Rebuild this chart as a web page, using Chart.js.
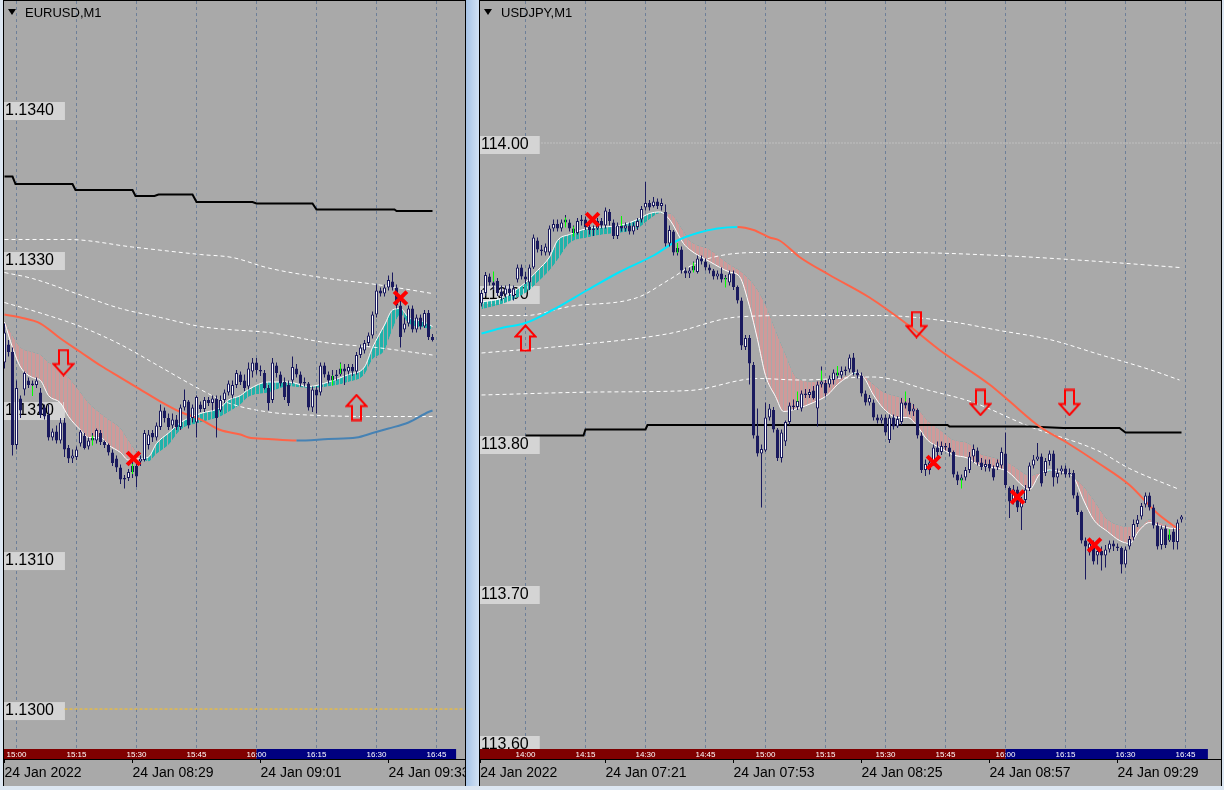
<!DOCTYPE html>
<html>
<head>
<meta charset="utf-8">
<script src="https://cdn.jsdelivr.net/npm/chart.js@4.4.1/dist/chart.umd.min.js"></script>
<style>
html, body { margin: 0; padding: 0; }
body { width: 1224px; height: 790px; position: relative; overflow: hidden; background: #dce6f1; font-family: "Liberation Sans", Arial, sans-serif; }
.gap { position: absolute; left: 466px; top: 0; width: 13px; height: 786px; background: linear-gradient(to right, #a6c3e6, #d2e2f4); }
.panel { position: absolute; top: 0; height: 786px; background: #a9a9a9; border: 1px solid #000; border-bottom: none; box-sizing: border-box; }
.panel canvas { position: absolute; left: 0; top: 0; }
.tri { position: absolute; top: 9px; width: 0; height: 0; border-left: 4.5px solid transparent; border-right: 4.5px solid transparent; border-top: 6px solid #000; }
.title { position: absolute; top: 5px; font-size: 13px; color: #000; white-space: nowrap; }
</style>
</head>
<body>
<div class="gap"></div>
<div class="panel" style="left:3px;width:463px;"><canvas id="eurChart" width="461" height="785"></canvas></div>
<div class="panel" style="left:479px;width:743px;"><canvas id="jpyChart" width="741" height="785"></canvas></div>
<div class="tri" style="left:8px;"></div><div class="title" style="left:25px;">EURUSD,M1</div>
<div class="tri" style="left:484px;"></div><div class="title" style="left:501px;">USDJPY,M1</div>
<script>
//-------------
//- EURUSD, M1 (bar index 0 = first visible bar)
//-------------
var eurOpen = [1.13231,1.13243,1.13238,1.13176,1.13207,1.13213,1.13219,1.13216,1.13216,1.13211,
  1.13201,1.13196,1.13181,1.13185,1.13179,1.13191,1.13174,1.13167,1.13168,1.13177,
  1.13182,1.13175,1.13179,1.13179,1.13184,1.13178,1.13176,1.13171,1.13167,1.13161,
  1.13153,1.13154,1.13158,1.13162,1.13165,1.13166,1.13176,1.13184,1.13181,1.13188,
  1.13199,1.13194,1.13189,1.13193,1.13188,1.13201,1.13205,1.13194,1.13191,1.13203,
  1.13200,1.13206,1.13204,1.13207,1.13199,1.13206,1.13211,1.13209,1.13216,1.13223,
  1.13219,1.13215,1.13225,1.13231,1.13226,1.13224,1.13214,1.13206,1.13229,1.13223,
  1.13218,1.13216,1.13219,1.13227,1.13223,1.13217,1.13217,1.13201,1.13213,1.13211,
  1.13229,1.13223,1.13219,1.13222,1.13223,1.13227,1.13225,1.13228,1.13225,1.13236,
  1.13239,1.13244,1.13249,1.13263,1.13279,1.13277,1.13281,1.13285,1.13281,1.13269,
  1.13253,1.13257,1.13267,1.13253,1.13261,1.13255,1.13264,1.13248];
var eurHigh = [1.13257,1.13246,1.13241,1.13219,1.13209,1.13225,1.13221,1.13219,1.13221,1.13214,
  1.13203,1.13203,1.13187,1.13189,1.13194,1.13194,1.13176,1.13173,1.13175,1.13186,
  1.13184,1.13181,1.13184,1.13187,1.13186,1.13179,1.13177,1.13173,1.13169,1.13163,
  1.13156,1.13160,1.13166,1.13166,1.13169,1.13186,1.13186,1.13186,1.13191,1.13203,
  1.13201,1.13197,1.13197,1.13196,1.13203,1.13213,1.13206,1.13203,1.13209,1.13205,
  1.13208,1.13208,1.13209,1.13209,1.13209,1.13213,1.13219,1.13219,1.13226,1.13225,
  1.13223,1.13231,1.13234,1.13234,1.13229,1.13226,1.13216,1.13234,1.13231,1.13225,
  1.13221,1.13219,1.13235,1.13230,1.13225,1.13221,1.13218,1.13215,1.13215,1.13231,
  1.13231,1.13225,1.13226,1.13226,1.13231,1.13230,1.13230,1.13230,1.13238,1.13243,
  1.13246,1.13251,1.13265,1.13283,1.13281,1.13283,1.13289,1.13291,1.13283,1.13273,
  1.13261,1.13269,1.13269,1.13263,1.13263,1.13266,1.13266,1.13250];
var eurLow = [1.13227,1.13235,1.13169,1.13173,1.13194,1.13209,1.13214,1.13213,1.13214,1.13194,
  1.13193,1.13179,1.13179,1.13177,1.13177,1.13168,1.13164,1.13164,1.13166,1.13175,
  1.13173,1.13173,1.13176,1.13177,1.13176,1.13174,1.13169,1.13162,1.13158,1.13150,
  1.13147,1.13152,1.13154,1.13148,1.13162,1.13165,1.13173,1.13178,1.13179,1.13186,
  1.13191,1.13186,1.13187,1.13186,1.13186,1.13199,1.13187,1.13191,1.13181,1.13198,
  1.13198,1.13202,1.13199,1.13181,1.13198,1.13204,1.13209,1.13207,1.13214,1.13216,
  1.13212,1.13213,1.13221,1.13223,1.13222,1.13213,1.13199,1.13204,1.13221,1.13215,
  1.13206,1.13202,1.13217,1.13221,1.13215,1.13215,1.13199,1.13198,1.13197,1.13209,
  1.13221,1.13217,1.13218,1.13219,1.13222,1.13216,1.13223,1.13222,1.13223,1.13234,
  1.13237,1.13242,1.13247,1.13261,1.13275,1.13275,1.13279,1.13279,1.13267,1.13241,
  1.13251,1.13255,1.13251,1.13251,1.13253,1.13254,1.13246,1.13245];
var eurClose = [1.13251,1.13238,1.13176,1.13214,1.13199,1.13224,1.13216,1.13217,1.13219,1.13196,
  1.13195,1.13181,1.13185,1.13179,1.13191,1.13173,1.13167,1.13169,1.13173,1.13185,
  1.13174,1.13179,1.13181,1.13186,1.13178,1.13176,1.13171,1.13164,1.13161,1.13153,
  1.13154,1.13158,1.13162,1.13155,1.13167,1.13184,1.13183,1.13181,1.13189,1.13199,
  1.13194,1.13188,1.13193,1.13188,1.13201,1.13206,1.13189,1.13201,1.13208,1.13200,
  1.13206,1.13204,1.13207,1.13194,1.13206,1.13211,1.13217,1.13216,1.13224,1.13218,
  1.13214,1.13227,1.13231,1.13226,1.13225,1.13214,1.13204,1.13231,1.13224,1.13217,
  1.13208,1.13204,1.13228,1.13223,1.13217,1.13218,1.13201,1.13213,1.13209,1.13229,
  1.13223,1.13219,1.13222,1.13223,1.13227,1.13225,1.13228,1.13225,1.13236,1.13241,
  1.13244,1.13249,1.13263,1.13279,1.13277,1.13281,1.13286,1.13281,1.13269,1.13248,
  1.13257,1.13267,1.13253,1.13261,1.13255,1.13264,1.13248,1.13246];

var eurPriceTicks = [1.1300, 1.1310, 1.1320, 1.1330, 1.1340];
var eurGridIdx = [3, 18, 33, 48, 63, 78, 93, 108];
var eurSessionLabels = ["15:00", "15:15", "15:30", "15:45", "16:00", "16:15", "16:30", "16:45"];
var eurDateIdx = [0, 32, 64, 96];
var eurDateLabels = ["24 Jan 2022", "24 Jan 08:29", "24 Jan 09:01", "24 Jan 09:33"];

// fast MA (white) and slow MA, the histogram is painted between them
var eurMaIdx = [0,2,4,7,9,11,14,16,19,21,24,26,29,31,34,36,38,41,44,49,54,56,59,61,66,71,76,81,86,90,92,95,97,99,101,105,107];
var eurMaFast = [1.13258,1.13241,1.13228,1.13221,1.13219,1.13209,1.13204,1.13195,1.13186,1.13181,
  1.13181,1.13176,1.13171,1.13166,1.13167,1.13168,1.13177,1.13184,1.13191,1.13197,
  1.13201,1.13206,1.13209,1.13213,1.13218,1.13218,1.13215,1.13218,1.13223,1.13228,
  1.13241,1.13256,1.13266,1.13267,1.13261,1.13258,1.13255];
var eurMaSlow = [1.13259,1.13249,1.13241,1.13238,1.13236,1.13231,1.13226,1.13221,1.13211,1.13204,
  1.13197,1.13193,1.13187,1.13179,1.13168,1.13165,1.13170,1.13176,1.13186,1.13191,
  1.13195,1.13198,1.13203,1.13208,1.13211,1.13215,1.13214,1.13215,1.13218,1.13223,
  1.13233,1.13239,1.13253,1.13263,1.13257,1.13254,1.13253];

var eurEmaIdx = [0,4,9,14,19,24,29,34,39,44,49,54,59,61,66,73,81,88,92,96,101,106,107];
var eurEma = [1.13263,1.13261,1.13257,1.13247,1.13238,1.13229,1.13221,1.13213,1.13205,1.13198,
  1.13193,1.13186,1.13183,1.13181,1.13180,1.13179,1.13180,1.13181,1.13184,1.13187,1.13191,1.13198,1.13199];

var eurBlackIdx = [0,2,2.75,17,17.75,32,32.75,37.5,38.5,47,48,62,63,77,78,97.5,98,107];
var eurBlack = [1.13355,1.13355,1.13350,1.13350,1.13346,1.13346,1.13342,1.13342,1.13343,1.13343,
  1.13338,1.13338,1.13337,1.13337,1.13333,1.13333,1.13332,1.13332];

var eurBandUpIdx = [0,16,32,49,57,66,81,93,107];
var eurBandUp = [1.13313,1.13313,1.13308,1.13303,1.13301,1.13294,1.13287,1.13283,1.13277];
var eurBandMidIdx = [0,7,19,29,39,49,56,66,81,93,107];
var eurBandMid = [1.13291,1.13287,1.13276,1.13267,1.13261,1.13255,1.13253,1.13251,1.13244,1.13241,1.13236];
var eurBandLowIdx = [0,9,19,29,39,49,56,66,76,93,107];
var eurBandLow = [1.13271,1.13264,1.13255,1.13243,1.13228,1.13213,1.13204,1.13198,1.13196,1.13195,1.13195];

var eurLevel = 1.1300;
var eurArrowIdx = [14.75, 88];
var eurArrowPrice = [1.13231, 1.13201];
var eurArrowUp = [false, true];
var eurCrossIdx = [32.25, 99];
var eurCrossPrice = [1.13167, 1.13274];
var eurTickIdx = [7, 22, 32, 82, 84];
var eurTickPrice = [1.13212, 1.13179, 1.13160, 1.13219, 1.13227];

//-------------
//- USDJPY, M1
//-------------
var jpyOpen = [113.893,113.900,113.911,113.907,113.908,113.901,113.899,113.903,113.898,113.909,
  113.917,113.911,113.907,113.917,113.935,113.929,113.927,113.927,113.943,113.946,
  113.943,113.947,113.947,113.943,113.940,113.948,113.949,113.944,113.942,113.943,
  113.948,113.945,113.954,113.947,113.938,113.945,113.943,113.945,113.941,113.944,
  113.949,113.957,113.960,113.958,113.961,113.958,113.954,113.933,113.941,113.927,
  113.929,113.915,113.913,113.915,113.914,113.923,113.921,113.917,113.915,113.911,
  113.913,113.909,113.907,113.913,113.904,113.895,113.864,113.870,113.852,113.805,
  113.793,113.795,113.817,113.822,113.809,113.790,113.801,113.814,113.825,113.824,
  113.823,113.833,113.832,113.835,113.823,113.839,113.840,113.839,113.842,113.847,
  113.845,113.848,113.849,113.857,113.847,113.845,113.833,113.827,113.827,113.817,
  113.815,113.817,113.802,113.817,113.811,113.814,113.827,113.827,113.821,113.822,
  113.805,113.782,113.782,113.787,113.797,113.794,113.798,113.797,113.794,113.779,
  113.775,113.777,113.782,113.791,113.795,113.787,113.784,113.786,113.783,113.784,
  113.785,113.793,113.770,113.762,113.769,113.757,113.762,113.770,113.785,113.789,
  113.791,113.780,113.788,113.793,113.777,113.781,113.783,113.779,113.780,113.765,
  113.754,113.735,113.727,113.733,113.725,113.728,113.725,113.729,113.733,113.731,
  113.730,113.719,113.731,113.737,113.746,113.751,113.759,113.765,113.757,113.745,
  113.732,113.743,113.735,113.741,113.734,113.749];
var jpyHigh = [113.902,113.914,113.913,113.911,113.910,113.905,113.905,113.906,113.905,113.919,
  113.919,113.914,113.919,113.939,113.937,113.932,113.933,113.945,113.949,113.949,
  113.949,113.952,113.949,113.945,113.950,113.952,113.951,113.948,113.945,113.950,
  113.950,113.957,113.956,113.949,113.947,113.947,113.947,113.947,113.947,113.950,
  113.958,113.974,113.962,113.964,113.963,113.963,113.959,113.945,113.942,113.933,
  113.931,113.917,113.917,113.921,113.925,113.925,113.923,113.919,113.916,113.915,
  113.917,113.912,113.915,113.915,113.905,113.897,113.872,113.872,113.854,113.823,
  113.799,113.827,113.826,113.824,113.810,113.809,113.815,113.827,113.829,113.831,
  113.835,113.836,113.836,113.838,113.841,113.851,113.842,113.845,113.849,113.850,
  113.851,113.851,113.859,113.860,113.849,113.847,113.835,113.832,113.829,113.819,
  113.819,113.819,113.819,113.819,113.818,113.830,113.832,113.830,113.826,113.823,
  113.807,113.789,113.790,113.799,113.801,113.801,113.800,113.800,113.795,113.781,
  113.779,113.784,113.794,113.799,113.797,113.790,113.789,113.789,113.785,113.789,
  113.797,113.807,113.771,113.772,113.771,113.764,113.772,113.787,113.792,113.800,
  113.793,113.790,113.795,113.795,113.783,113.785,113.785,113.783,113.782,113.767,
  113.755,113.737,113.735,113.735,113.730,113.731,113.732,113.735,113.735,113.733,
  113.731,113.731,113.738,113.749,113.752,113.760,113.767,113.767,113.759,113.747,
  113.745,113.745,113.742,113.743,113.749,113.752];
var jpyLow = [113.891,113.898,113.905,113.902,113.898,113.895,113.897,113.898,113.895,113.907,
  113.909,113.906,113.902,113.916,113.927,113.925,113.925,113.925,113.941,113.941,
  113.941,113.944,113.941,113.938,113.939,113.945,113.942,113.939,113.938,113.942,
  113.943,113.943,113.945,113.936,113.936,113.941,113.941,113.939,113.939,113.942,
  113.947,113.955,113.955,113.957,113.956,113.955,113.931,113.931,113.925,113.925,
  113.913,113.910,113.910,113.914,113.913,113.919,113.915,113.913,113.909,113.909,
  113.907,113.905,113.905,113.902,113.893,113.862,113.862,113.839,113.803,113.791,
  113.757,113.794,113.815,113.807,113.788,113.787,113.798,113.812,113.822,113.822,
  113.821,113.830,113.830,113.829,113.811,113.837,113.831,113.837,113.839,113.843,
  113.843,113.845,113.847,113.845,113.843,113.831,113.825,113.825,113.815,113.813,
  113.813,113.805,113.800,113.809,113.810,113.812,113.823,113.819,113.818,113.803,
  113.780,113.778,113.779,113.785,113.791,113.792,113.795,113.791,113.777,113.772,
  113.771,113.775,113.780,113.787,113.785,113.782,113.781,113.781,113.775,113.782,
  113.783,113.770,113.750,113.759,113.754,113.742,113.760,113.768,113.783,113.788,
  113.771,113.778,113.785,113.771,113.773,113.779,113.777,113.777,113.763,113.752,
  113.733,113.709,113.725,113.719,113.719,113.715,113.717,113.727,113.728,113.728,
  113.713,113.717,113.729,113.735,113.744,113.749,113.757,113.755,113.743,113.729,
  113.729,113.730,113.734,113.729,113.729,113.747];
var jpyClose = [113.900,113.912,113.907,113.905,113.900,113.898,113.903,113.900,113.903,113.917,
  113.911,113.909,113.917,113.937,113.929,113.928,113.931,113.943,113.946,113.943,
  113.947,113.949,113.943,113.940,113.948,113.949,113.944,113.942,113.943,113.948,
  113.945,113.955,113.948,113.938,113.945,113.943,113.945,113.941,113.945,113.948,
  113.956,113.960,113.957,113.961,113.958,113.960,113.933,113.942,113.927,113.930,
  113.915,113.913,113.915,113.918,113.923,113.921,113.917,113.915,113.911,113.913,
  113.909,113.910,113.913,113.904,113.895,113.865,113.870,113.853,113.805,113.793,
  113.796,113.817,113.823,113.809,113.790,113.807,113.814,113.825,113.824,113.828,
  113.833,113.832,113.834,113.830,113.839,113.841,113.833,113.843,113.847,113.845,
  113.848,113.849,113.857,113.847,113.845,113.833,113.827,113.830,113.817,113.815,
  113.817,113.807,113.817,113.811,113.816,113.827,113.825,113.821,113.823,113.805,
  113.782,113.786,113.787,113.797,113.794,113.798,113.797,113.794,113.779,113.775,
  113.777,113.782,113.791,113.796,113.787,113.784,113.786,113.783,113.777,113.787,
  113.794,113.772,113.761,113.769,113.757,113.761,113.769,113.785,113.789,113.791,
  113.773,113.788,113.793,113.777,113.780,113.783,113.779,113.780,113.765,113.754,
  113.735,113.731,113.733,113.721,113.728,113.725,113.729,113.733,113.731,113.730,
  113.719,113.729,113.736,113.746,113.749,113.758,113.765,113.757,113.745,113.731,
  113.743,113.732,113.739,113.734,113.747,113.751];

var jpyPriceTicks = [113.60, 113.70, 113.80, 113.90, 114.00];
var jpyGridIdx = [11, 26, 41, 56, 71, 86, 101, 116, 131, 146, 161, 176];
var jpySessionLabels = ["14:00", "14:15", "14:30", "14:45", "15:00", "15:15", "15:30", "15:45", "16:00", "16:15", "16:30", "16:45"];
var jpyDateIdx = [-0.3, 31, 63, 95, 127, 159];
var jpyDateLabels = ["24 Jan 2022", "24 Jan 07:21", "24 Jan 07:53", "24 Jan 08:25", "24 Jan 08:57", "24 Jan 09:29"];

var jpyMaIdx = [0,5.5,11,14,17,19,22,26.5,30.5,34.5,39,42,44.5,47,50.5,52,57,62,64.5,67,
  69,71,73.5,75.5,79,83,86.5,89,91.5,93.5,95.5,98,100.5,104,106.5,109,111.5,114.5,118,121.5,
  124.5,127,131.5,135.5,137,139.5,142,144.5,148,150.5,153,156.5,159.5,162,164.5,167,169.5,173,174.5];
var jpyMaFast = [113.894,113.897,113.907,113.915,113.924,113.935,113.939,113.943,113.944,113.945,
  113.949,113.953,113.954,113.949,113.933,113.929,113.921,113.914,113.911,113.891,
  113.869,113.845,113.831,113.821,113.823,113.827,113.832,113.839,113.844,113.847,
  113.844,113.832,113.823,113.817,113.817,113.811,113.802,113.797,113.792,113.790,
  113.785,113.784,113.781,113.771,113.769,113.779,113.782,113.781,113.777,113.762,
  113.749,113.741,113.735,113.733,113.742,113.747,113.745,113.743,113.743];
var jpyMaSlow = [113.889,113.893,113.900,113.907,113.915,113.922,113.933,113.937,113.939,113.940,
  113.943,113.949,113.953,113.953,113.941,113.935,113.929,113.919,113.915,113.909,
  113.902,113.892,113.875,113.862,113.843,113.841,113.842,113.843,113.845,113.846,
  113.845,113.839,113.834,113.831,113.829,113.823,113.815,113.809,113.802,113.800,
  113.793,113.791,113.787,113.780,113.778,113.780,113.781,113.782,113.777,113.771,
  113.762,113.749,113.745,113.744,113.744,113.749,113.747,113.745,113.745];

var jpyEmaIdx = [0,5.5,11,18,26.5,34.5,43,49,54,59,64,68,72,74.5,79.5,87,97,106.5,114.5,127,131.5,139.5,146.5,154,162,169,174.5];
var jpyEma = [113.873,113.877,113.880,113.889,113.902,113.914,113.925,113.935,113.940,113.943,
  113.944,113.942,113.937,113.935,113.924,113.912,113.897,113.879,113.862,113.839,
  113.829,113.811,113.800,113.787,113.772,113.753,113.742];

var jpyBlackIdx = [11,25.5,26,41,41.5,116.5,117,137,145.5,159.5,161,169.5,175];
var jpyBlack = [113.805,113.805,113.809,113.809,113.812,113.812,113.811,113.811,113.810,113.810,113.807,113.807,113.807];

var jpyBandUpIdx = [0,11,22,39,47,54.5,69,79.5,104.5,129.5,154.5,174.5];
var jpyBandUp = [113.885,113.885,113.891,113.897,113.909,113.921,113.927,113.927,113.927,113.925,113.921,113.917];
var jpyBandMidIdx = [0,22,47,64,79.5,99.5,117,129.5,142,154.5,167,174.5];
var jpyBandMid = [113.860,113.865,113.873,113.884,113.885,113.885,113.881,113.875,113.869,113.859,113.849,113.842];
var jpyBandLowIdx = [0,29.5,52,69,79.5,98,112,123,137,154,162,174.5];
var jpyBandLow = [113.832,113.834,113.835,113.843,113.842,113.844,113.835,113.827,113.811,113.795,113.783,113.769];

var jpyLevel = 114.00;
var jpyArrowIdx = [11, 108.75, 124.75, 147];
var jpyArrowPrice = [113.870, 113.879, 113.827, 113.827];
var jpyArrowUp = [true, false, false, false];
var jpyCrossIdx = [27.75, 113, 134, 153.25];
var jpyCrossPrice = [113.949, 113.787, 113.764, 113.732];
var jpyTickIdx = [3, 21, 23, 35, 49, 53, 61, 79, 85, 89, 106, 120, 172];
var jpyTickPrice = [113.911, 113.947, 113.941, 113.948, 113.930, 113.917, 113.907, 113.831, 113.845, 113.848, 113.831, 113.773, 113.739];

//-------------
//- drawing helpers
//-------------
var CANDLE = "#1a1a5e";
Chart.defaults.font.family = "'Liberation Sans', Arial, sans-serif";

function pts(xs, ys) {
    return xs.map(function (x, k) { return { x: x, y: ys[k] }; });
}

function stripes(ctx, color, on) {
    var c = document.createElement("canvas");
    c.width = 4; c.height = 1;
    var g = c.getContext("2d");
    g.fillStyle = color;
    g.fillRect(0, 0, on, 1);
    return ctx.createPattern(c, "repeat");
}

function arrowCanvas(up) {
    var c = document.createElement("canvas");
    c.width = 23; c.height = 28;
    var g = c.getContext("2d");
    var p = up
        ? [[11.5, 1.5], [21.5, 12.5], [16, 12.5], [16, 26.5], [7, 26.5], [7, 12.5], [1.5, 12.5]]
        : [[7, 1.5], [16, 1.5], [16, 15.5], [21.5, 15.5], [11.5, 26.5], [1.5, 15.5], [7, 15.5]];
    g.beginPath();
    p.forEach(function (q, k) { if (k) g.lineTo(q[0], q[1]); else g.moveTo(q[0], q[1]); });
    g.closePath();
    g.lineJoin = "miter";
    g.lineWidth = 2;
    g.strokeStyle = "#ff0000";
    g.stroke();
    return c;
}

// red/navy session strip at the bottom of the plot
var sessionBar = {
    id: "sessionBar",
    afterDatasetsDraw: function (chart, args, o) {
        var ctx = chart.ctx, xs = chart.scales.x, top = chart.chartArea.bottom - 10;
        var a = xs.getPixelForValue(o.start), b = xs.getPixelForValue(o.split), e = xs.getPixelForValue(o.end);
        ctx.save();
        ctx.fillStyle = "#800000";
        ctx.fillRect(a, top, b - a, 10);
        ctx.fillStyle = "#000080";
        ctx.fillRect(b, top, e - b, 10);
        ctx.fillStyle = "#ffffff";
        ctx.font = "8px 'Liberation Sans', Arial, sans-serif";
        ctx.textAlign = "center";
        ctx.textBaseline = "middle";
        o.idx.forEach(function (v, k) { ctx.fillText(o.labels[k], xs.getPixelForValue(v), top + 5.5); });
        ctx.restore();
    }
};

function lineSet(data, color, width, order, extra) {
    var d = { type: "line", data: data, borderColor: color, borderWidth: width, pointRadius: 0,
        cubicInterpolationMode: "monotone", fill: false, order: order, xAxisID: "x", yAxisID: "y" };
    for (var k in extra) d[k] = extra[k];
    return d;
}

function buildChart(id, p) {
    var canvas = document.getElementById(id);
    var ctx = canvas.getContext("2d");

    var wick = [], body = [], bodyFill = [];
    for (var i = 0; i < p.open.length; i++) {
        wick.push({ x: i, y: [p.low[i], p.high[i]] });
        body.push({ x: i, y: [p.open[i], p.close[i]] });
        bodyFill.push(p.close[i] >= p.open[i] ? "#ffffff" : CANDLE);
    }
    var barCommon = { type: "bar", grouped: false, barPercentage: 1, categoryPercentage: 1, inflateAmount: 0, xAxisID: "x", yAxisID: "y" };

    var datasets = [
        lineSet(pts(p.maIdx, p.maSlow), "rgba(0,0,0,0)", 1, 30),
        lineSet(pts(p.maIdx, p.maFast), "#ffffff", 1, 29, {
            fill: { target: 0, above: stripes(ctx, "#20b2aa", 3), below: stripes(ctx, "#cf9a9a", 3) }
        }),
        lineSet(pts(p.bandUpIdx, p.bandUp), "#ffffff", 1, 25, { borderDash: [4, 3] }),
        lineSet(pts(p.bandMidIdx, p.bandMid), "#ffffff", 1, 25, { borderDash: [4, 3] }),
        lineSet(pts(p.bandLowIdx, p.bandLow), "#ffffff", 1, 25, { borderDash: [4, 3] }),
        lineSet(pts([15, p.xMax], [p.level, p.level]), p.levelColor, 1, 24, { borderDash: p.levelDash }),
        lineSet(pts(p.blackIdx, p.black), "#000000", 2, 23, { cubicInterpolationMode: "default", tension: 0 }),
        lineSet(pts(p.emaIdx, p.ema), p.emaDown, 2, 22, {
            segment: { borderColor: function (c) { return c.p1.parsed.y >= c.p0.parsed.y ? p.emaUp : p.emaDown; } }
        }),
        Object.assign({}, barCommon, { data: wick, backgroundColor: CANDLE, borderWidth: 0, maxBarThickness: 1, order: 12 }),
        Object.assign({}, barCommon, { data: body, backgroundColor: bodyFill, borderColor: CANDLE, borderWidth: 1,
            borderSkipped: false, maxBarThickness: 3, minBarLength: 1, order: 11 }),
        lineSet(pts(p.tickIdx, p.tickPrice), "#00ff00", 1, 4, { showLine: false, pointRadius: 5, pointStyle: "line",
            pointRotation: 90, pointBorderColor: "#00ff00", pointBorderWidth: 1 }),
        lineSet(pts(p.arrowIdx, p.arrowPrice), "#ff0000", 1, 3, { showLine: false, pointRadius: 10,
            pointStyle: p.arrowUp.map(function (u) { return arrowCanvas(u); }) }),
        lineSet(pts(p.crossIdx, p.crossPrice), "#ff0000", 1, 2, { showLine: false, pointRadius: 9, pointStyle: "crossRot",
            pointBorderColor: "#ff0000", pointBorderWidth: 4 })
    ];

    return new Chart(canvas, {
        type: "bar",
        data: { datasets: datasets },
        plugins: [sessionBar],
        options: {
            responsive: false,
            animation: false,
            devicePixelRatio: 1,
            events: [],
            layout: { padding: 0, autoPadding: false },
            plugins: {
                legend: { display: false },
                tooltip: { enabled: false },
                sessionBar: { start: p.xMin, split: p.sessionSplit, end: p.sessionEnd, idx: p.gridIdx, labels: p.sessionLabels }
            },
            scales: {
                x: {
                    type: "linear", position: "bottom", min: p.xMin, max: p.xMax, offset: false,
                    afterBuildTicks: function (s) { s.ticks = p.dateIdx.map(function (v) { return { value: v }; }); },
                    afterFit: function (s) { s.height = 27; s.paddingLeft = 0; s.paddingRight = 0; },
                    ticks: { autoSkip: false, maxRotation: 0, minRotation: 0, align: "start", padding: 2, color: "#000",
                        font: { size: 14 }, callback: function (v, k) { return p.dateLabels[k]; } },
                    grid: { drawOnChartArea: false, drawTicks: true, tickLength: 4, color: "#000", offset: false },
                    border: { display: true, color: "#000", width: 1 }
                },
                xg: {
                    type: "linear", position: "top", min: p.xMin, max: p.xMax, offset: false,
                    afterBuildTicks: function (s) { s.ticks = p.gridIdx.map(function (v) { return { value: v }; }); },
                    afterFit: function (s) { s.height = 0; s.paddingLeft = 0; s.paddingRight = 0; },
                    ticks: { display: false },
                    grid: { color: "#6d7f99", lineWidth: 1, drawTicks: false, offset: false },
                    border: { display: false, dash: [3, 3] }
                },
                y: {
                    type: "linear", position: "left", min: p.yMin, max: p.yMax,
                    afterBuildTicks: function (s) { s.ticks = p.priceTicks.map(function (v) { return { value: v }; }); },
                    afterFit: function (s) { s.width = 0; s.paddingTop = 0; s.paddingBottom = 0; },
                    ticks: { mirror: true, padding: 1, labelOffset: 2, color: "#000", font: { size: 16, lineHeight: 1 },
                        showLabelBackdrop: true, backdropColor: "#d4d4d4",
                        backdropPadding: { top: 1, bottom: 1, left: 1, right: 11 },
                        callback: function (v) { return v.toFixed(p.digits); } },
                    grid: { display: false },
                    border: { display: false }
                }
            }
        }
    });
}

//-------------
//- build both panels
//-------------
buildChart("eurChart", {
    open: eurOpen, high: eurHigh, low: eurLow, close: eurClose,
    maIdx: eurMaIdx, maFast: eurMaFast, maSlow: eurMaSlow,
    emaIdx: eurEmaIdx, ema: eurEma, emaUp: "#4682b4", emaDown: "#ff6347",
    blackIdx: eurBlackIdx, black: eurBlack,
    bandUpIdx: eurBandUpIdx, bandUp: eurBandUp, bandMidIdx: eurBandMidIdx, bandMid: eurBandMid,
    bandLowIdx: eurBandLowIdx, bandLow: eurBandLow,
    level: eurLevel, levelColor: "#ffc31a", levelDash: [3, 2],
    arrowIdx: eurArrowIdx, arrowPrice: eurArrowPrice, arrowUp: eurArrowUp,
    crossIdx: eurCrossIdx, crossPrice: eurCrossPrice, tickIdx: eurTickIdx, tickPrice: eurTickPrice,
    priceTicks: eurPriceTicks, digits: 4, gridIdx: eurGridIdx, sessionLabels: eurSessionLabels,
    dateIdx: eurDateIdx, dateLabels: eurDateLabels,
    xMin: -0.125, xMax: 115.125, yMin: 1.129667, yMax: 1.134720, sessionSplit: 63, sessionEnd: 112.9
});

buildChart("jpyChart", {
    open: jpyOpen, high: jpyHigh, low: jpyLow, close: jpyClose,
    maIdx: jpyMaIdx, maFast: jpyMaFast, maSlow: jpyMaSlow,
    emaIdx: jpyEmaIdx, ema: jpyEma, emaUp: "#00e8ff", emaDown: "#ff6347",
    blackIdx: jpyBlackIdx, black: jpyBlack,
    bandUpIdx: jpyBandUpIdx, bandUp: jpyBandUp, bandMidIdx: jpyBandMidIdx, bandMid: jpyBandMid,
    bandLowIdx: jpyBandLowIdx, bandLow: jpyBandLow,
    level: jpyLevel, levelColor: "#d6d6d6", levelDash: [1, 2],
    arrowIdx: jpyArrowIdx, arrowPrice: jpyArrowPrice, arrowUp: jpyArrowUp,
    crossIdx: jpyCrossIdx, crossPrice: jpyCrossPrice, tickIdx: jpyTickIdx, tickPrice: jpyTickPrice,
    priceTicks: jpyPriceTicks, digits: 2, gridIdx: jpyGridIdx, sessionLabels: jpySessionLabels,
    dateIdx: jpyDateIdx, dateLabels: jpyDateLabels,
    xMin: -0.375, xMax: 184.875, yMin: 113.589333, yMax: 114.094667, sessionSplit: 131, sessionEnd: 181.6
});
</script>
</body>
</html>
